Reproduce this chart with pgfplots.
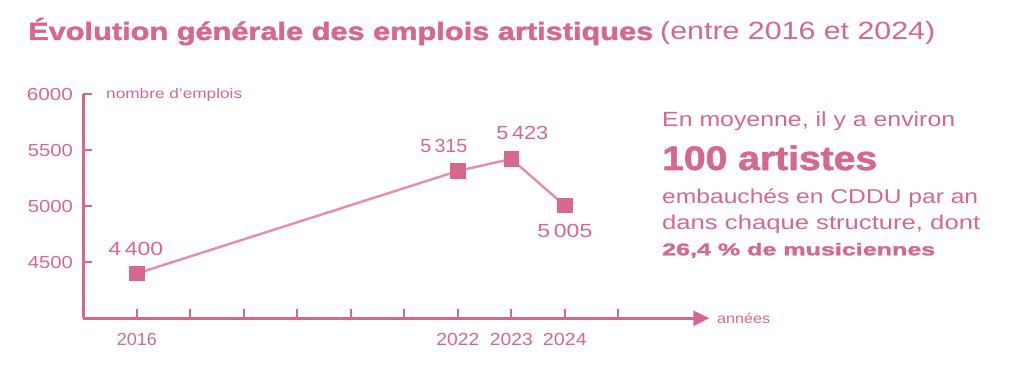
\documentclass[border=0pt]{standalone}
\usepackage{fontspec}
\setmainfont{Liberation Sans}
\newfontfamily\heavy[BoldFeatures={FakeBold=1.6}]{Liberation Sans}
\usepackage{graphicx}
\usepackage{pgfplots}
\pgfplotsset{compat=1.18}
\usetikzlibrary{arrows.meta}
\definecolor{rose}{RGB}{214,104,141}
\definecolor{roseline}{RGB}{229,141,171}
\newcommand{\W}[2]{\resizebox{#1pt}{\height}{#2}}
\begin{document}
\begin{tikzpicture}[x=1pt,y=1pt]
\path[use as bounding box] (0,0) rectangle (1024,366);
\node[anchor=base west, inner sep=0, text=rose, font=\fontsize{25}{30}\selectfont\heavy\bfseries] at (28,326) {\W{625}{Évolution générale des emplois artistiques}};
\node[anchor=base west, inner sep=0, text=rose, font=\fontsize{25}{30}\selectfont] at (660,326) {\W{275}{(entre 2016 et 2024)}};
\begin{axis}[
 at={(83.3pt,47.7pt)}, anchor=south west, scale only axis, width=626pt, height=224pt,
 xmin=2015, xmax=2026.7, ymin=4000, ymax=6000,
 axis x line=bottom, axis y line=left,
 axis line style={rose, line width=2.6pt},
 x axis line style={-{Triangle[length=16pt,width=15pt]}},
 y axis line style={-},
 tick align=inside, major tick length=9pt,
 tick style={rose, line width=2.2pt},
 xtick={2016,2017,2018,2019,2020,2021,2022,2023,2024,2025},
 xticklabels={\W{40}{2016},,,,,,\W{43}{2022},\W{43}{2023},\W{44}{2024},},
 ytick={4500,5000,5500,6000},
 yticklabels={\W{45}{4500},\W{45}{5000},\W{45}{5500},\W{46}{6000}},
 ticklabel style={text=rose, font=\fontsize{17.5}{20}\selectfont},
 yticklabel style={xshift=-7pt},
 xticklabel style={yshift=-11pt},
 clip=false,
]
\addplot[roseline, line width=2.4pt, mark=square*, mark size=6.5pt, mark options={rose, fill=rose, draw=rose, solid}] coordinates {(2016,4400)(2022,5315)(2023,5423)(2024,5005)};
\addplot[draw=none, no marks, nodes near coords, point meta=explicit symbolic,
  every node near coord/.append style={text=rose, font=\fontsize{19}{24}\selectfont, anchor=base, yshift=18pt, xshift=-1pt}]
  coordinates {(2016,4400)[\W{55}{4\,400}]};
\addplot[draw=none, no marks, nodes near coords, point meta=explicit symbolic,
  every node near coord/.append style={text=rose, font=\fontsize{19}{24}\selectfont, anchor=base, yshift=19pt, xshift=-14pt}]
  coordinates {(2022,5315)[\W{47}{5\,315}]};
\addplot[draw=none, no marks, nodes near coords, point meta=explicit symbolic,
  every node near coord/.append style={text=rose, font=\fontsize{19}{24}\selectfont, anchor=base, yshift=19pt, xshift=11pt}]
  coordinates {(2023,5423)[\W{52}{5\,423}]};
\addplot[draw=none, no marks, nodes near coords, point meta=explicit symbolic,
  every node near coord/.append style={text=rose, font=\fontsize{19}{24}\selectfont, anchor=base, yshift=-32pt}]
  coordinates {(2024,5005)[\W{55}{5\,005}]};
\end{axis}
\node[anchor=base west, inner sep=0, text=rose, font=\fontsize{14}{18}\selectfont] at (106,267.7) {\W{136}{nombre d’emplois}};
\node[anchor=base west, inner sep=0, text=rose, font=\fontsize{14}{18}\selectfont] at (717,42.7) {\W{53}{années}};
\node[anchor=base west, inner sep=0, text=rose, font=\fontsize{20.5}{24}\selectfont] at (662,239.3) {\W{293}{En moyenne, il y a environ}};
\node[anchor=base west, inner sep=0, text=rose, font=\fontsize{34}{36}\selectfont\heavy\bfseries] at (662,196) {\W{215}{100 artistes}};
\node[anchor=base west, inner sep=0, text=rose, font=\fontsize{20}{24}\selectfont] at (662,162) {\W{316}{embauchés en CDDU par an}};
\node[anchor=base west, inner sep=0, text=rose, font=\fontsize{20}{24}\selectfont] at (662,136.7) {\W{318}{dans chaque structure, dont}};
\node[anchor=base west, inner sep=0, text=rose, font=\fontsize{17}{24}\selectfont\heavy\bfseries] at (662,110.7) {\W{273}{26,4 \% de musiciennes}};
\end{tikzpicture}
\end{document}
